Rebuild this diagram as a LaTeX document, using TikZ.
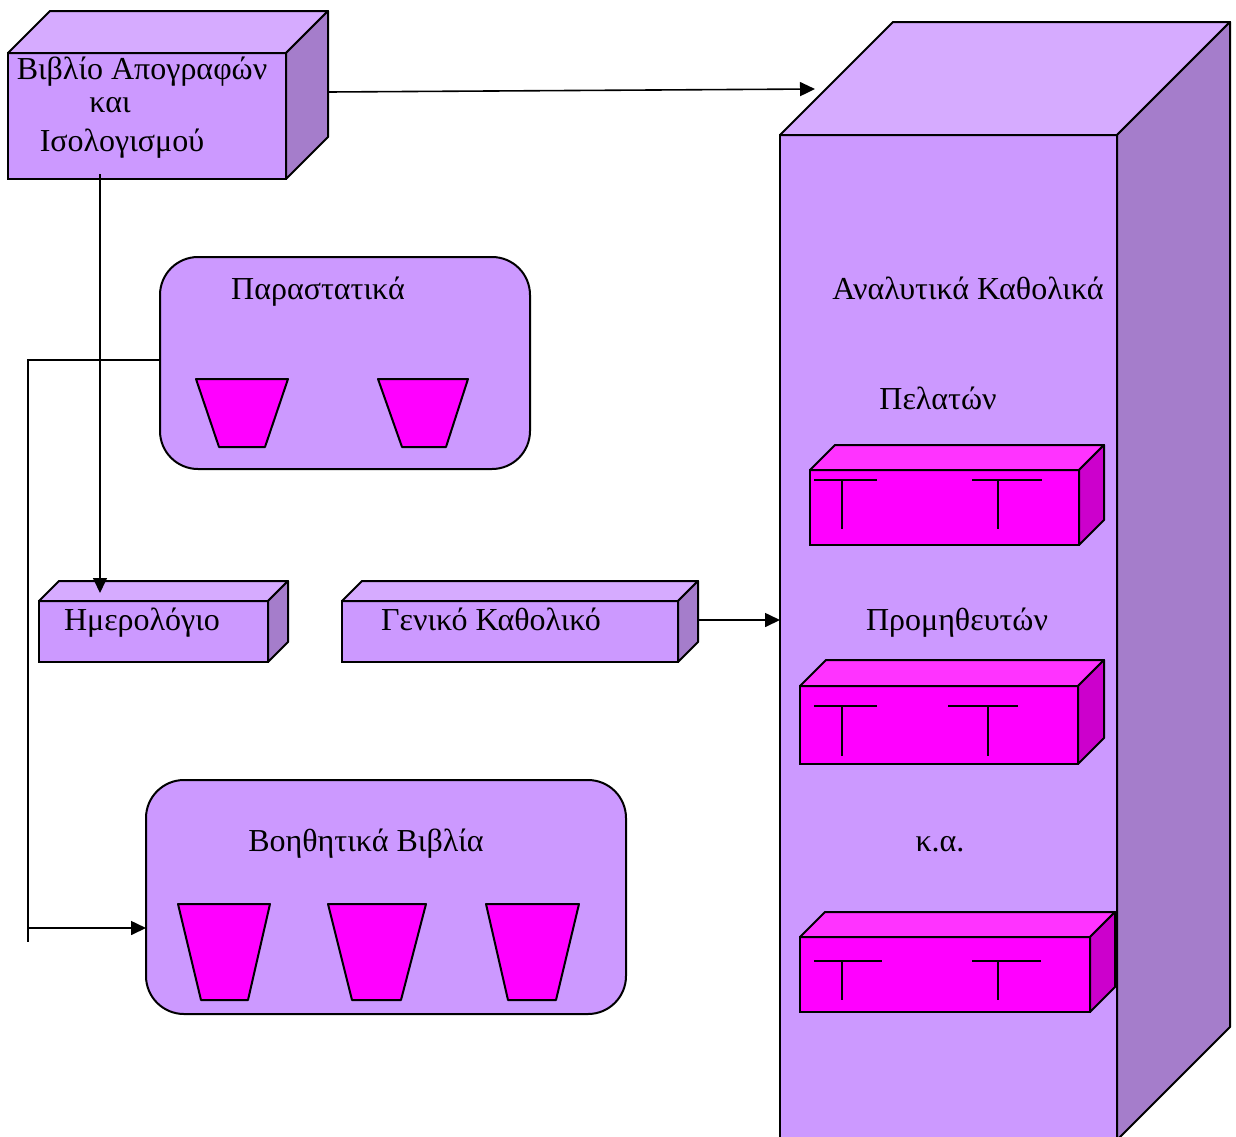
\documentclass[tikz,border=0pt]{standalone}
\usepackage{fontspec}
\setmainfont{Liberation Serif}
\usetikzlibrary{arrows.meta,calc}
\definecolor{fr}{HTML}{CC99FF}
\definecolor{tp}{HTML}{D6ABFF}
\definecolor{sd}{HTML}{A57DCB}
\definecolor{mfr}{HTML}{FF00FF}
\definecolor{mtp}{HTML}{FF33FF}
\definecolor{msd}{HTML}{CC00CC}
% name, x1, y1, x2, y2, depth, front, top, side
\newcommand\mycuboid[9]{%
  \node[draw, line width=2pt, fill=#7, minimum width={#4-#2}, minimum height={#5-#3},
        anchor=north west, inner sep=0pt, outer sep=0pt] (#1) at (#2,#3) {};
  \draw[line width=2pt, line join=round, fill=#8] (#1.north west) -- ++(#6,-#6) -- ++({#4-#2},0) -- (#1.north east) -- cycle;
  \draw[line width=2pt, line join=round, fill=#9] (#1.north east) -- ++(#6,-#6) -- ++(0,{#5-#3}) -- (#1.south east) -- cycle;
}
\newcommand\mytrap[6]{% x1 x2 top y, x3 x4 bottom y
  \draw[line width=2pt, line join=round, fill=mfr] (#1,#3) -- (#2,#3) -- (#5,#6) -- (#4,#6) -- cycle;
}
\begin{document}
\begin{tikzpicture}[x=1pt,y=-1pt,
  lbl/.style={font=\fontsize{32}{38}\selectfont, inner sep=0pt, anchor=base},
  conn/.style={line width=1.6pt},
  arr/.style={line width=1.6pt, -{Triangle[length=15pt,width=14pt]}},
  rbox/.style={draw, line width=2pt, fill=fr, rounded corners=38pt, anchor=north west, inner sep=0pt, outer sep=0pt},
  tee/.style={line width=2pt}]
\useasboundingbox (0,0) rectangle (1236,1136);
\clip (0,0) rectangle (1236,1136);

% big cabinet
\mycuboid{cab}{780}{135}{1117}{1140}{113}{fr}{tp}{sd}
\node[lbl] (t-anal) at (968,299) {Αναλυτικά Καθολικά};
\node[lbl] (t-pel) at (938,409) {Πελατών};
\node[lbl] (t-pro) at (957,630) {Προμηθευτών};
\node[lbl] (t-ka) at (940,851) {κ.α.};

% magenta drawers
\mycuboid{m1}{810}{470}{1079}{545}{25}{mfr}{mtp}{msd}
\draw[tee] (814,480) -- (877,480) (842,480) -- (842,529);
\draw[tee] (972,480) -- (1042,480) (998,480) -- (998,529);
\mycuboid{m2}{800}{686}{1078}{764}{26}{mfr}{mtp}{msd}
\draw[tee] (814,706) -- (877,706) (842,706) -- (842,756);
\draw[tee] (948,706) -- (1018,706) (988,706) -- (988,756);
\mycuboid{m3}{800}{937}{1090}{1012}{25}{mfr}{mtp}{msd}
\draw[tee] (814,961) -- (882,961) (842,961) -- (842,1000);
\draw[tee] (972,961) -- (1041,961) (998,961) -- (998,1000);

% top-left book
\mycuboid{bk}{8}{53}{286}{179}{42}{fr}{tp}{sd}
\node[lbl] (t-bk1) at (142,79) {Βιβλίο Απογραφών};
\node[lbl] (t-bk2) at (110,112) {και};
\node[lbl] (t-bk3) at (122,151) {Ισολογισμού};

% Παραστατικά
\node[rbox, minimum width=370, minimum height=212] (par) at (160,257) {};
\node[lbl] (t-par) at (318,299) {Παραστατικά};
\mytrap{196}{288}{379}{219}{265}{447}
\mytrap{378}{468}{379}{402}{446}{447}

% Βοηθητικά Βιβλία
\node[rbox, minimum width=480, minimum height=234] (bo) at (146,780) {};
\node[lbl] (t-bo) at (366,851) {Βοηθητικά Βιβλία};
\mytrap{178}{270}{904}{201}{248}{1000}
\mytrap{328}{426}{904}{352}{401}{1000}
\mytrap{486}{579}{904}{508}{556}{1000}

% Ημερολόγιο & Γενικό Καθολικό
\mycuboid{hm}{39}{601}{268}{662}{20}{fr}{tp}{sd}
\node[lbl] (t-hm) at (142,630) {Ημερολόγιο};
\mycuboid{gk}{342}{601}{678}{662}{20}{fr}{tp}{sd}
\node[lbl] (t-gk) at (491,630) {Γενικό Καθολικό};

% connectors
\coordinate (a1) at (328,92);
\coordinate (a2) at (815,89);
\draw[arr] (a1) -- (a2);
\coordinate (b1) at (100,174);
\coordinate (b2) at (100,593);
\draw[arr] (b1) -- (b2);
\coordinate (p1) at (28,360);
\coordinate (p2) at (28,942);
\draw[conn] (p1 -| par.west) -- (p1) -- (p2);
\coordinate (q1) at (28,928);
\draw[arr] (q1) -- (q1 -| bo.west);
\coordinate (g1) at (698,620);
\draw[arr] (g1) -- (g1 -| cab.west);
\end{tikzpicture}
\end{document}
